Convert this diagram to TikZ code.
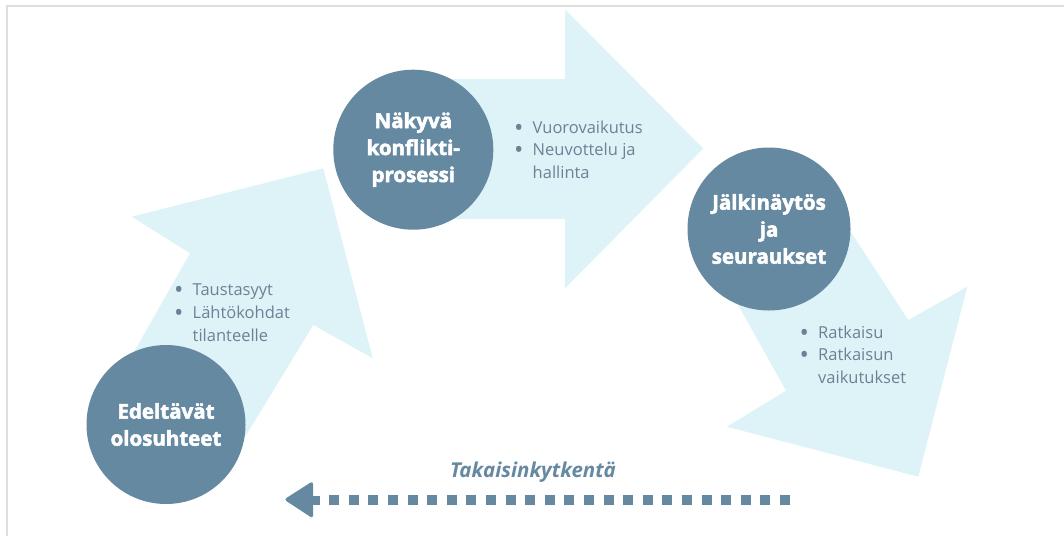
\documentclass[tikz,border=0pt]{standalone}
\usepackage{fontspec}
\setmainfont{Open Sans}
\newfontfamily\xbold{Open Sans}[BoldFeatures={FakeBold=2.5}]
\definecolor{circ}{RGB}{100,137,161}
\definecolor{arr}{RGB}{221,243,248}
\definecolor{btxt}{RGB}{108,130,148}
\definecolor{framegray}{RGB}{222,222,222}
\newcommand\bitem{\makebox[18.5pt][l]{\raisebox{-3pt}{\fontsize{25}{22.8}\selectfont •}}}
\newcommand\bskip{\hspace*{18.5pt}}
\begin{document}
\begin{tikzpicture}[x=1pt,y=-1pt,
  stage/.style={circle, fill=circ, minimum size=#1, inner sep=0pt, text=white,
    align=center, font=\fontsize{20.5}{27}\selectfont\xbold\bfseries},
  block/.style={fill=arr},
  bullets/.style={text=btxt, inner sep=0pt, anchor=base west,
    font=\fontsize{16.5}{22.8}\selectfont},
  framestyle/.style={draw=framegray, line width=2pt},
  feedback/.style={draw=circ, line width=10pt, dash pattern=on 10pt off 9.6pt},
]
\useasboundingbox (0,0) rectangle (1064,536);
% frame
\draw[framestyle] (7,536) -- (7,5.5) -- (1064,5.5);

% block arrows
\path[block] (101,410) -- (190,253.3) -- (131.7,216.7) -- (323.3,168.3)
  -- (372.7,358.3) -- (313.3,325) -- (234,455) -- cycle;
\path[block] (420,79) -- (565,79) -- (565,9.3) -- (703.3,148.5)
  -- (565,288.3) -- (565,219) -- (420,219) -- cycle;
\path[block] (713,260) -- (786,390.7) -- (726.7,426.7) -- (918.3,476.7)
  -- (967.3,286.7) -- (908.3,320) -- (830,200) -- cycle;

% stages
\node[stage=159pt] (s1) at (166,424.5) {Edeltävät\\olosuhteet};
\node[stage=160pt] (s2) at (413.3,149.7) {Näkyvä\\konflikti-\\prosessi};
\node[stage=163pt] (s3) at (769,229) {Jälkinäytös\\ja\\seuraukset};

% bullet texts
\node[bullets] (b1) at (174,295.5) {\begin{tabular}[t]{@{}l@{}}\bitem Taustasyyt\\ \bitem Lähtökohdat\\ \bskip tilanteelle\end{tabular}};
\node[bullets] (b2) at (514,133) {\begin{tabular}[t]{@{}l@{}}\bitem Vuorovaikutus\\ \bitem Neuvottelu ja\\ \bskip hallinta\end{tabular}};
\node[bullets] (b3) at (799.5,338) {\begin{tabular}[t]{@{}l@{}}\bitem Ratkaisu\\ \bitem Ratkaisun\\ \bskip vaikutukset\end{tabular}};

% feedback arrow
\coordinate (fbstart) at (790,500);
\coordinate (fbend) at (329.2,500);
\coordinate (fbtip) at (284,499.5);
\draw[feedback] (fbstart) -- (fbend);
\fill[circ, rounded corners=3pt] (fbtip) -- (313,481) -- (313,518.5) -- cycle;
\fill[circ] (312,495.5) rectangle (320,504.5);
\node[text=circ, font=\fontsize{20.5}{24}\selectfont\bfseries\itshape] (fblabel) at (533,472) {Takaisinkytkentä};
\end{tikzpicture}
\end{document}
